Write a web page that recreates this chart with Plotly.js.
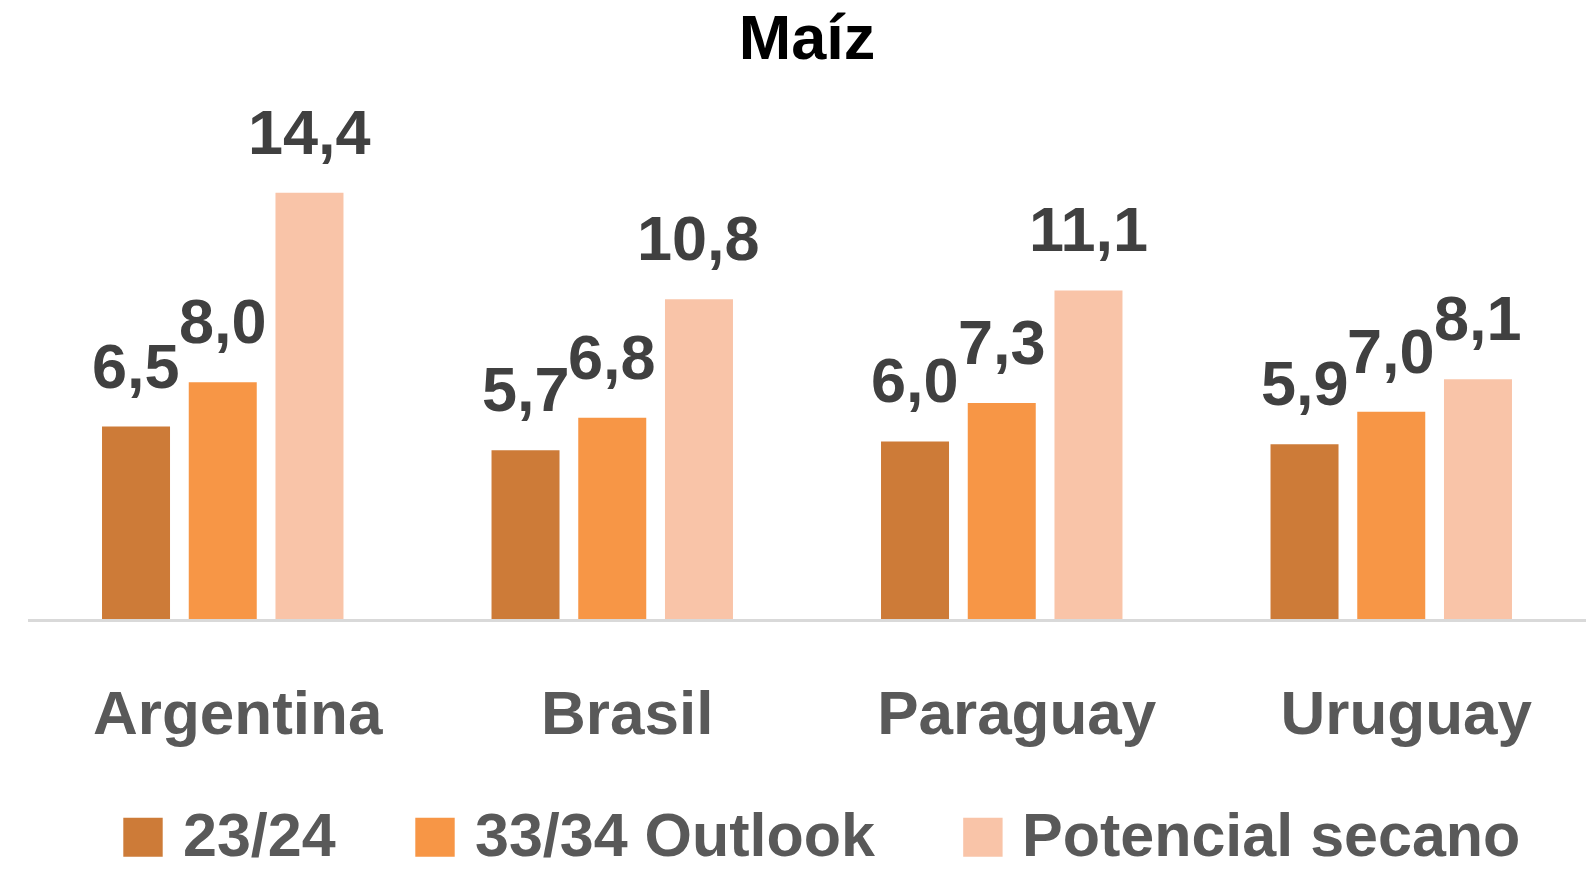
<!DOCTYPE html>
<html>
<head>
<meta charset="utf-8">
<script src="https://cdn.plot.ly/plotly-3.0.1.min.js"></script>
<style>
  html, body { margin: 0; padding: 0; background: #ffffff; }
  #chart { width: 1588px; height: 870px; }
</style>
</head>
<body>
<div id="chart"></div>
<script>
// ---- Data ----
const categories = ["Argentina", "Brasil", "Paraguay", "Uruguay"];
const seriesNames = ["23/24", "33/34 Outlook", "Potencial secano"];
const values2324 = [6.5, 5.7, 6.0, 5.9];
const valuesOutlook = [8.0, 6.8, 7.3, 7.0];
const valuesPotencial = [14.4, 10.8, 11.1, 8.1];
const chartTitle = "Maíz";

// ---- Styles ----
const colors = ["#CD7B38", "#F79646", "#F9C4A8"];
const FONT = "Liberation Sans, Arial, sans-serif";
const W = 1588, H = 870;
const M = { l: 28, r: 2, t: 27, b: 251 };
const bargap = 0.332;
const bargroupgap = 0.216;

const seriesValues = [values2324, valuesOutlook, valuesPotencial];
const fmt = v => v.toFixed(1).replace(".", ",");

const traces = seriesValues.map((vals, k) => ({
  type: "bar",
  name: seriesNames[k],
  x: categories,
  y: vals,
  marker: { color: colors[k], line: { width: 0 } },
  showlegend: false,
  hoverinfo: "x+y+name"
}));

// data labels above bars (annotations tied to data coords)
const slot = (1 - bargap) / seriesValues.length;
const annotations = [];
seriesValues.forEach((vals, k) => {
  vals.forEach((v, i) => {
    annotations.push({
      xref: "x", yref: "y",
      x: i + (k - (seriesValues.length - 1) / 2) * slot,
      y: v,
      text: fmt(v),
      showarrow: false,
      xanchor: "center", yanchor: "bottom",
      yshift: 24,
      font: { family: FONT, size: 63, color: "#404040", weight: "bold" }
    });
  });
});

// custom legend (large swatches like the reference)
const plotW = W - M.l - M.r, plotH = H - M.t - M.b;
const px2x = px => (px - M.l) / plotW;
const py2y = py => (H - M.b - py) / plotH;
const legendSwatchX = [123.3, 415.3, 963.2];
const legendTextX = [181, 473, 1020];
const shapes = [];
seriesNames.forEach((name, k) => {
  shapes.push({
    type: "rect", xref: "paper", yref: "paper",
    x0: px2x(legendSwatchX[k]), x1: px2x(legendSwatchX[k] + 39.4),
    y0: py2y(856.7), y1: py2y(817.7),
    fillcolor: colors[k], line: { width: 0 }
  });
  annotations.push({
    xref: "paper", yref: "paper",
    x: px2x(legendTextX[k]), y: py2y(835),
    text: name, showarrow: false,
    xanchor: "left", yanchor: "middle",
    font: { family: FONT, size: 61, color: "#595959", weight: "bold" }
  });
});

const layout = {
  width: W, height: H,
  margin: M,
  paper_bgcolor: "#ffffff",
  plot_bgcolor: "#ffffff",
  barmode: "group",
  bargap: bargap,
  bargroupgap: bargroupgap,
  showlegend: false,
  title: {
    text: chartTitle,
    x: 0.5, xref: "paper",
    y: 1 - 37 / H, yref: "container",
    xanchor: "center", yanchor: "middle",
    font: { family: FONT, size: 63, color: "#000000", weight: "bold" }
  },
  xaxis: {
    type: "category",
    showline: true, linecolor: "#D9D9D9", linewidth: 3,
    showgrid: false, zeroline: false, ticks: "",
    ticklabelstandoff: 38,
    ticklabelshift: 15,
    tickfont: { family: FONT, size: 62, color: "#595959", weight: "bold" },
    fixedrange: true
  },
  yaxis: {
    range: [0, 20],
    visible: false,
    showgrid: false, zeroline: false,
    fixedrange: true
  },
  shapes: shapes,
  annotations: annotations
};

Plotly.newPlot("chart", traces, layout, { displayModeBar: false, responsive: false });
</script>
</body>
</html>
